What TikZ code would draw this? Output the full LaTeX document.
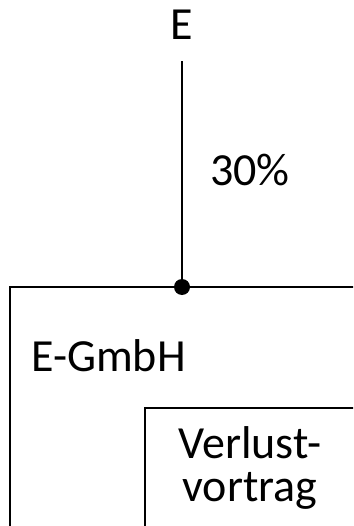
\documentclass[tikz,border=0pt]{standalone}
\usepackage{fontspec}
\setmainfont{Carlito}
\begin{document}
\begin{tikzpicture}[x=1pt,y=-1pt,
  lbl/.style={inner sep=0pt,anchor=base,font=\fontsize{46}{43}\selectfont},
  ln/.style={line width=2.8pt,line cap=rect}]
\useasboundingbox (0,0) rectangle (353,526);
\clip (0,0) rectangle (353,526);
\node[lbl] (E) at (182,40) {E};
\node[lbl,anchor=base west] (pct) at (210,186) {30\%};
\node[lbl,anchor=base west] (gmbh) at (31,371) {E-GmbH};
\node[lbl,align=center] (vv) at (250,501) {Verlust-\\vortrag};
\coordinate (ltop) at (182,62);
\coordinate (dot) at (182,287);
\coordinate (o1) at (360,287);
\coordinate (o2) at (10,287);
\coordinate (o3) at (10,540);
\coordinate (i1) at (360,408);
\coordinate (i2) at (145,408);
\coordinate (i3) at (145,540);
\draw[ln] (ltop) -- (dot);
\draw[ln,line cap=butt] (o1) -- (o2) -- (o3);
\draw[ln,line cap=butt] (i1) -- (i2) -- (i3);
\fill (dot) circle (8);
\end{tikzpicture}
\end{document}
